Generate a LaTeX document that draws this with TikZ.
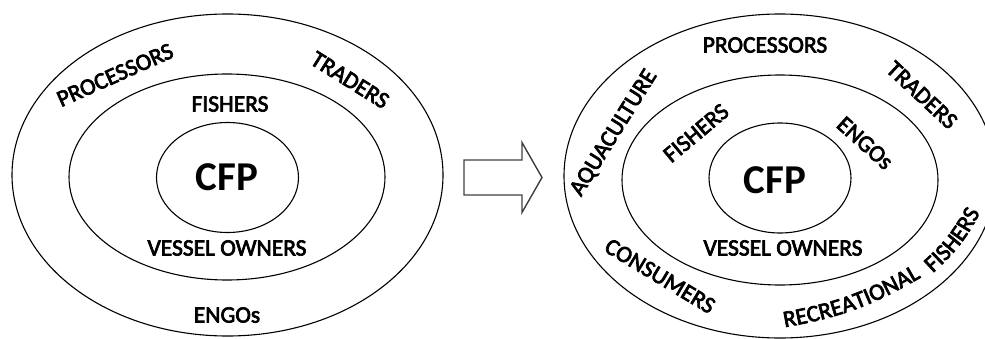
\documentclass[tikz,border=0pt]{standalone}
\usepackage{fontspec}
\setmainfont{Carlito}
\newfontfamily\lblfont{Carlito}[FakeBold=3]
\usetikzlibrary{shapes.geometric,decorations.text}
\begin{document}
\begin{tikzpicture}[x=1pt,y=1pt,
  ring/.style={draw=black,line width=1.1pt,ellipse,inner sep=0pt},
  lbl/.style={font=\lblfont\fontsize{23.5}{28}\selectfont,inner sep=0pt,text=black},
  core/.style={font=\fontsize{41}{48}\selectfont\bfseries,inner sep=0pt,text=black},
  arcwords/.style={decorate,decoration={text along path,text align=center,
    text={|\lblfont\fontsize{23.5}{28}\selectfont|#1}}},
  blockarrow/.style={draw=black!75,line width=1.4pt,line join=miter}]
\useasboundingbox (0,0) rectangle (985,338);
\clip (0,0) rectangle (985,338);

% ---- current governance: concentric rings ----
\node[ring,minimum width=431pt,minimum height=322pt] (Lout) at (227.5,163) {};
\node[ring,minimum width=316pt,minimum height=206pt] (Lmid) at (227,161) {};
\node[ring,minimum width=142pt,minimum height=110pt] (Lin)  at (227.5,160.5) {};

\node[core] (Lcfp) at (227,161) {CFP};
\node[lbl] (Lfish) at (230,234) {FISHERS};
\node[lbl] (Lvess) at (227,90) {VESSEL OWNERS};
\node[lbl] (Lengo) at (227,23) {ENGOs};
\node[lbl,rotate=24] (Lproc) at (115,263) {PROCESSORS};
\node[lbl,rotate=-32] (Ltrad) at (350,258) {TRADERS};

% ---- transition block arrow ----
\draw[blockarrow] (464,178) -- (522,178) -- (522,195.5) -- (542,160.5)
  -- (522,125.5) -- (522,143) -- (464,143) -- cycle;

% ---- reformed governance: widened rings ----
\node[ring,minimum width=432pt,minimum height=324pt] (Rout) at (780,162) {};
\node[ring,minimum width=316pt,minimum height=210pt] (Rmid) at (780,158) {};
\node[ring,minimum width=142pt,minimum height=110pt] (Rin)  at (780,160) {};

\node[core] (Rcfp) at (775,158) {CFP};
\node[lbl] (Rvess) at (783,90) {VESSEL OWNERS};
\node[lbl,rotate=40] (Rfish) at (696,205) {FISHERS};
\node[lbl,rotate=-42] (Rengo) at (865,195) {ENGOs};
\node[lbl] (Rproc) at (765,293) {PROCESSORS};
\node[lbl,rotate=-43] (Rtrad) at (922,243) {TRADERS};
\node[lbl,rotate=58] (Raqua) at (614,205) {AQUACULTURE};
\node[lbl,rotate=-31] (Rcons) at (660,62) {CONSUMERS};

% two-part label bending along the outer ring
\coordinate (recA) at (786,11);
\coordinate (recB) at (920,60);
\coordinate (fisA) at (933,65);
\coordinate (fisB) at (980,125);
\path[arcwords=RECREATIONAL] (recA) to[bend right=10] (recB);
\path[arcwords=FISHERS] (fisA) to[bend right=10] (fisB);
\end{tikzpicture}
\end{document}
